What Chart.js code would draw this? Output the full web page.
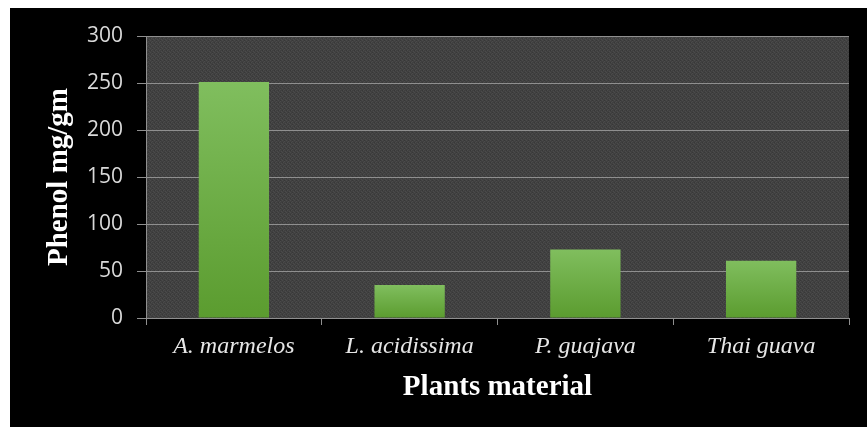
<!DOCTYPE html>
<html>
<head>
<meta charset="utf-8">
<script src="https://cdn.jsdelivr.net/npm/chart.js@4.4.0/dist/chart.umd.min.js"></script>
<style>
  html, body { margin: 0; padding: 0; background: #ffffff; }
  #wrap { position: absolute; left: 10px; top: 8px; width: 857px; height: 419px; background: #000000; }
  #chart { display: block; }
</style>
</head>
<body>
<div id="wrap"><canvas id="chart" width="857" height="419"></canvas></div>
<script>
// data
const plants = ["A. marmelos", "L. acidissima", "P. guajava", "Thai guava"];
const phenol = [251, 35, 73, 61];
const yTicks = [0, 50, 100, 150, 200, 250, 300];

const gridColor = "#8f8f8f";

// textured dark plot background
function makeTexture(ctx) {
    const c = document.createElement("canvas");
    c.width = 4; c.height = 4;
    const p = c.getContext("2d");
    p.fillStyle = "#404040";
    p.fillRect(0, 0, 4, 4);
    p.fillStyle = "#4b4b4b";
    p.fillRect(0, 0, 1, 1); p.fillRect(2, 1, 1, 1);
    p.fillRect(1, 2, 1, 1); p.fillRect(3, 3, 1, 1);
    p.fillStyle = "#383838";
    p.fillRect(2, 0, 1, 1); p.fillRect(0, 2, 1, 1);
    return ctx.createPattern(c, "repeat");
}

const plotBg = {
    id: "plotBg",
    beforeDraw(chart) {
        const a = chart.chartArea;
        const ctx = chart.ctx;
        ctx.save();
        ctx.fillStyle = makeTexture(ctx);
        ctx.fillRect(a.left, a.top, a.right - a.left, a.bottom - a.top);
        ctx.restore();
    }
};

function barFill(context) {
    const chart = context.chart;
    const y = chart.scales.y;
    if (!y || context.dataIndex === undefined) return "#6aaa40";
    const v = context.dataset.data[context.dataIndex];
    const top = y.getPixelForValue(v);
    const bottom = y.getPixelForValue(0);
    if (!isFinite(top) || !isFinite(bottom) || top === bottom) return "#6aaa40";
    const g = chart.ctx.createLinearGradient(0, top, 0, bottom);
    g.addColorStop(0, "#80be5e");
    g.addColorStop(1, "#5b9c2f");
    return g;
}

new Chart(document.getElementById("chart").getContext("2d"), {
    type: "bar",
    data: {
        labels: plants,
        datasets: [{
            label: "Phenol mg/gm",
            data: phenol,
            backgroundColor: barFill,
            borderWidth: 0,
            barPercentage: 0.4,
            categoryPercentage: 1.0
        }]
    },
    options: {
        responsive: false,
        animation: false,
        layout: { padding: { left: 0, right: 18, top: 28, bottom: 0 } },
        plugins: {
            legend: { display: false },
            tooltip: { enabled: false }
        },
        scales: {
            x: {
                offset: true,
                grid: {
                    offset: true,
                    drawOnChartArea: false,
                    drawTicks: true,
                    tickLength: 7,
                    color: gridColor
                },
                border: { display: true, color: gridColor },
                ticks: {
                    color: "#e6e6e6",
                    padding: 7,
                    font: { family: "'Liberation Serif', 'Times New Roman', serif", style: "italic", size: 24 }
                },
                title: {
                    display: true,
                    text: "Plants material",
                    color: "#ffffff",
                    padding: { top: 0, bottom: 22 },
                    font: { family: "'Liberation Serif', 'Times New Roman', serif", weight: "bold", size: 29 }
                },
                afterFit(scale) { scale.height = 109; }
            },
            y: {
                min: 0,
                max: 300,
                afterBuildTicks(scale) { scale.ticks = yTicks.map(v => ({ value: v })); },
                grid: {
                    color: gridColor,
                    tickLength: 9,
                    drawTicks: true
                },
                border: { display: true, color: gridColor },
                ticks: {
                    color: "#d9d9d9",
                    padding: 14,
                    font: { family: "'Open Sans', 'Liberation Sans', sans-serif", size: 21 }
                },
                title: {
                    display: true,
                    text: "Phenol mg/gm",
                    color: "#ffffff",
                    padding: { top: 32, bottom: 0 },
                    font: { family: "'Liberation Serif', 'Times New Roman', serif", weight: "bold", size: 29 }
                },
                afterFit(scale) { scale.width = 136; }
            }
        }
    },
    plugins: [plotBg]
});
</script>
</body>
</html>
